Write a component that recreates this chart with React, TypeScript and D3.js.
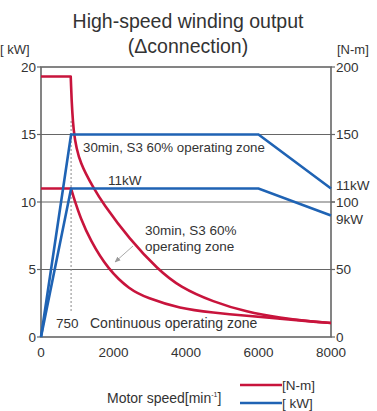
import React from "react";
import * as d3 from "d3";

// speeds in min^-1, power in kW, torque in N-m
const s3Power: [number, number][] = [[0, 0], [830, 15], [6000, 15], [8000, 11]];
const contPower: [number, number][] = [[0, 0], [830, 11], [6000, 11], [8000, 9]];
const s3Torque: [number, number][] = [
  [0, 193], [820, 193], [880, 150], [1080, 128], [1460, 110], [1680, 100],
  [2450, 72], [3230, 50], [3830, 37], [4750, 26], [5680, 18.5], [6590, 14.3], [7500, 11.3], [8000, 10.4],
];
const contTorque: [number, number][] = [
  [0, 110], [830, 110], [940, 100], [1080, 89], [1350, 72], [1850, 50], [2450, 35],
  [2920, 29], [3830, 21], [4750, 18], [5680, 15.6], [6590, 13.7], [7500, 11.3], [8000, 10.4],
];
const speedTicks = [0, 2000, 4000, 6000, 8000];
const kwTicks = [0, 5, 10, 15, 20];
const nmTicks = [0, 50, 100, 150, 200];
const baseSpeed = 830;

const RED = "#c8143c";
const BLUE = "#1f63b4";
const GRID = "#666";
const TXT = "#333";
const FONT = "'Liberation Sans', Arial, sans-serif";

export default function App() {
  const left = 41, right = 331, top = 67, bottom = 337;
  const x = d3.scaleLinear().domain([0, 8000]).range([left, right]);
  const yKw = d3.scaleLinear().domain([0, 20]).range([bottom, top]);
  const yNm = d3.scaleLinear().domain([0, 200]).range([bottom, top]);

  const kwLine = d3.line<[number, number]>().x(d => x(d[0])).y(d => yKw(d[1]));
  const flat = d3.line<[number, number]>().x(d => x(d[0])).y(d => yNm(d[1]));
  const drop = d3.line<[number, number]>()
    .x(d => x(d[0])).y(d => yNm(d[1])).curve(d3.curveBasis);
  // constant-torque part straight, falling part smoothed
  const torquePath = (pts: [number, number][]) =>
    (flat(pts.slice(0, 2)) ?? "") + (drop(pts.slice(1)) ?? "").replace(/^M[^A-Z]*/, m => "L" + m.slice(1));

  return (
    <svg width={377} height={411} style={{ position: "absolute", left: 0, top: 0, background: "#fff" }}
      fontFamily={FONT}>
      <text x={188} y={28} textAnchor="middle" fontSize={19.5} fill={TXT}>High-speed winding output</text>
      <text x={188} y={53} textAnchor="middle" fontSize={19.5} fill={TXT}>(Δconnection)</text>
      <text x={0} y={54} fontSize={13} fill={TXT}>[ kW]</text>
      <text x={337} y={54} fontSize={13} fill={TXT}>[N-m]</text>

      {/* grid */}
      {kwTicks.slice(1, -1).map(t => (
        <line key={t} x1={left} x2={right + 4} y1={yKw(t)} y2={yKw(t)} stroke={GRID} strokeWidth={1.2} />
      ))}
      <rect x={left} y={top} width={right - left} height={bottom - top} fill="none" stroke={GRID} strokeWidth={1.6} />

      {/* left axis */}
      {kwTicks.map(t => (
        <g key={t}>
          <line x1={left - 4} x2={left} y1={yKw(t)} y2={yKw(t)} stroke={GRID} strokeWidth={1.2} />
          <text x={36} y={yKw(t)} dy="0.35em" textAnchor="end" fontSize={13.5} fill={TXT}>{t}</text>
        </g>
      ))}
      {/* right axis */}
      {nmTicks.map(t => (
        <g key={t}>
          <line x1={right} x2={right + 4} y1={yNm(t)} y2={yNm(t)} stroke={GRID} strokeWidth={1.2} />
          <text x={336} y={yNm(t)} dy="0.35em" fontSize={13.5} fill={TXT}>{t}</text>
        </g>
      ))}
      <text x={336} y={yKw(11)} dy="0.1em" fontSize={13.5} fill={TXT}>11kW</text>
      <text x={336} y={yKw(9)} dy="0.6em" fontSize={13.5} fill={TXT}>9kW</text>
      {/* bottom axis */}
      {speedTicks.map(t => (
        <text key={t} x={x(t)} y={357} textAnchor="middle" fontSize={13.5} fill={TXT}>{t}</text>
      ))}

      {/* base speed marker */}
      <line x1={x(baseSpeed)} x2={x(baseSpeed)} y1={yKw(16)} y2={yKw(1.8)} stroke="#888"
        strokeWidth={1} strokeDasharray="2,2" />
      <text x={56} y={328} fontSize={13.5} fill={TXT}>750</text>

      {/* annotations */}
      <text x={83} y={152} fontSize={13.3} fill={TXT}>30min, S3 60% operating zone</text>
      <text x={108} y={185} fontSize={13.5} fill={TXT}>11kW</text>
      <text x={145} y={235} fontSize={13.5} fill={TXT}>30min, S3 60%</text>
      <text x={145} y={251} fontSize={13.5} fill={TXT}>operating zone</text>
      <text x={90} y={328} fontSize={14} fill={TXT}>Continuous operating zone</text>
      <defs>
        <marker id="ah" viewBox="0 0 10 10" refX="9" refY="5" markerWidth="6" markerHeight="6" orient="auto">
          <path d="M0,1 L10,5 L0,9 z" fill="#999" />
        </marker>
      </defs>
      <line x1={133} y1={246} x2={115} y2={262} stroke="#aaa" strokeWidth={1} markerEnd="url(#ah)" />

      {/* curves */}
      <path d={torquePath(contTorque)} fill="none" stroke={RED} strokeWidth={2.6} strokeLinejoin="round" />
      <path d={torquePath(s3Torque)} fill="none" stroke={RED} strokeWidth={2.6} strokeLinejoin="round" />
      <path d={kwLine(contPower) ?? ""} fill="none" stroke={BLUE} strokeWidth={2.6} />
      <path d={kwLine(s3Power) ?? ""} fill="none" stroke={BLUE} strokeWidth={2.6} />

      {/* legend */}
      <text x={107} y={403} fontSize={14} fill={TXT}>
        Motor speed[min<tspan fontSize={7} dy="-6">-1</tspan><tspan dy="6">]</tspan>
      </text>
      <line x1={240} x2={282} y1={385} y2={385} stroke={RED} strokeWidth={2.6} />
      <text x={282} y={390} fontSize={13.5} fill={TXT}>[N-m]</text>
      <line x1={240} x2={282} y1={403} y2={403} stroke={BLUE} strokeWidth={2.6} />
      <text x={282} y={408} fontSize={13.5} fill={TXT}>[ kW]</text>
    </svg>
  );
}
